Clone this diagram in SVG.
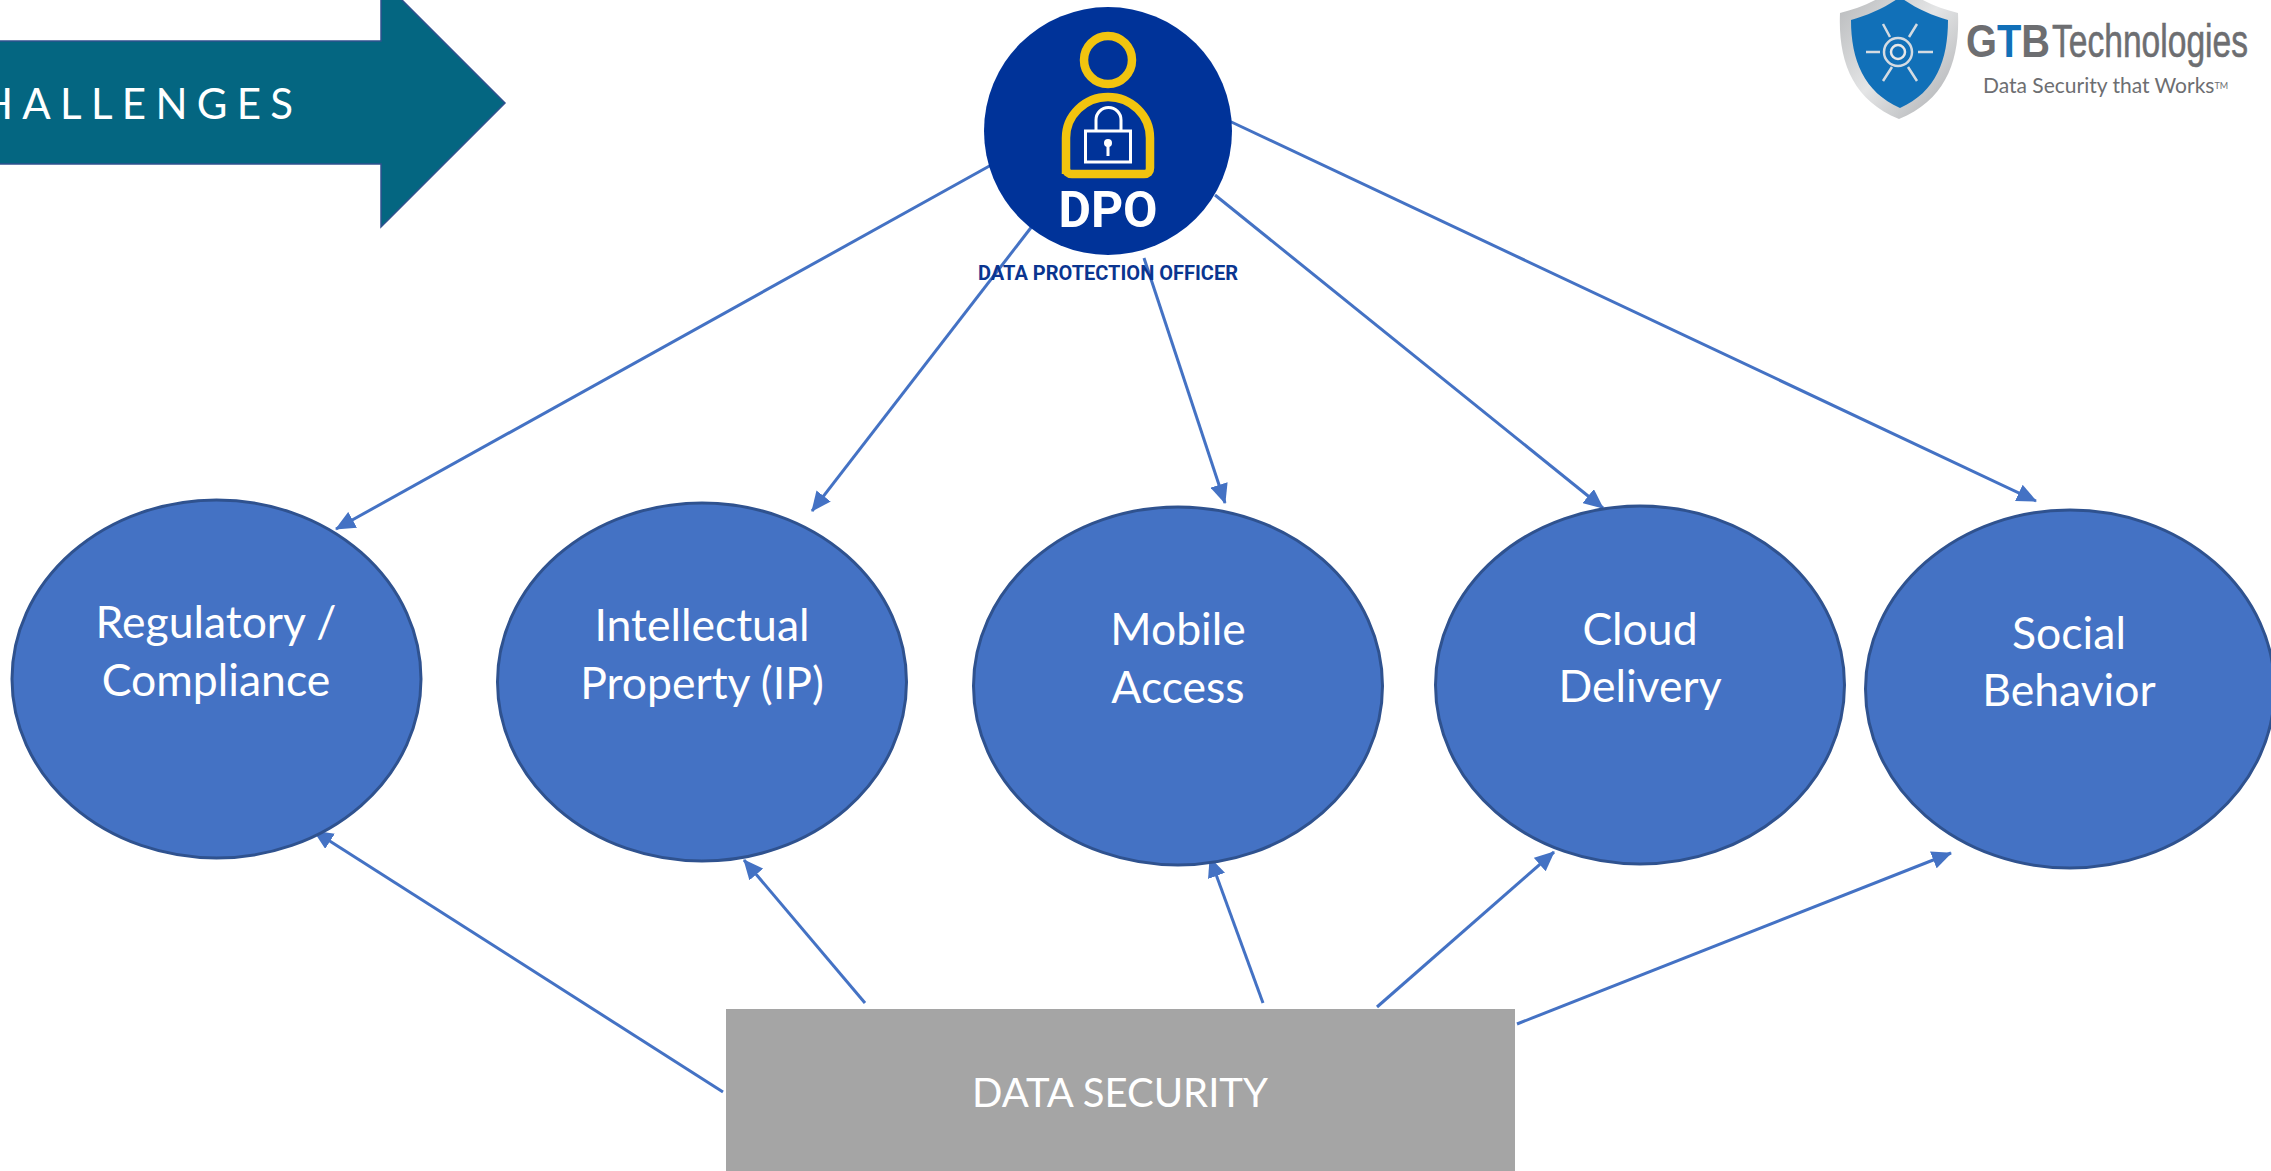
<svg xmlns="http://www.w3.org/2000/svg" width="2271" height="1171" viewBox="0 0 2271 1171">
<style>
.el{fill:#4472c4;stroke:#2f528f;stroke-width:3}
.lb{font-family:"Lato","Open Sans",sans-serif;font-size:44.500px;fill:#fff;text-anchor:middle}
.cn{stroke:#4472c4;stroke-width:3;fill:none;marker-end:url(#ah)}
</style>
<defs>
<marker id="ah" markerUnits="userSpaceOnUse" markerWidth="20" markerHeight="18" refX="19" refY="9" orient="auto"><path d="M0 0L20 9L0 18Z" fill="#4472c4"/></marker>
<linearGradient id="sv" x1="0" y1="0" x2="1" y2="1"><stop offset="0" stop-color="#b4b6b8"/><stop offset=".5" stop-color="#e4e5e6"/><stop offset="1" stop-color="#a9abae"/></linearGradient>
</defs>
<rect width="2271" height="1171" fill="#fff"/>
<g id="challenges">
<path d="M-5 41H381V-21L505 103L381 227V164H-5Z" fill="#046681" stroke="#2f528f" stroke-width="1.5"/>
<text x="-19" y="119" font-family="Lato,'Open Sans',sans-serif" font-size="42" letter-spacing="9.300" fill="#fff">HALLENGES</text>
</g>
<g id="connectors">
<line class="cn" x1="993" y1="164" x2="336" y2="529"/>
<line class="cn" x1="1033" y1="225" x2="812" y2="511"/>
<line class="cn" x1="1144" y1="258" x2="1225" y2="503"/>
<line class="cn" x1="1215" y1="195" x2="1603" y2="508"/>
<line class="cn" x1="1225" y1="119" x2="2036" y2="501"/>
<line class="cn" x1="723" y1="1092" x2="314" y2="831"/>
<line class="cn" x1="865" y1="1003" x2="744" y2="860"/>
<line class="cn" x1="1263" y1="1003" x2="1210" y2="858"/>
<line class="cn" x1="1377" y1="1007" x2="1554" y2="852"/>
<line class="cn" x1="1517" y1="1024" x2="1951" y2="853"/>
</g>
<g id="dpo">
<circle cx="1108" cy="131" r="124" fill="#003399"/>
<circle cx="1108" cy="60" r="24" fill="none" stroke="#f1c40f" stroke-width="8.5"/>
<path d="M1066 174V138A42 41 0 0 1 1150 138V168Q1150 174 1144 174H1072Q1066 174 1066 168V138" fill="none" stroke="#f1c40f" stroke-width="8.5"/>
<rect x="1085.5" y="131" width="45" height="31" fill="none" stroke="#fff" stroke-width="3"/>
<path d="M1096 131V120A12.5 12.500 0 0 1 1121 120V131" fill="none" stroke="#fff" stroke-width="3"/>
<circle cx="1108" cy="143" r="4" fill="#fff"/>
<rect x="1106.500" y="143" width="3" height="13" fill="#fff"/>
<text x="1108" y="227" font-family="Roboto,sans-serif" font-weight="700" font-size="50" fill="#fff" text-anchor="middle">DPO</text>
<text x="1108" y="279.500" font-family="Roboto,sans-serif" font-weight="700" font-size="20" fill="#0a3590" text-anchor="middle">DATA PROTECTION OFFICER</text>
</g>
<g id="regulatory"><ellipse class="el" cx="216.500" cy="679" rx="204.500" ry="179"/><text class="lb" x="216" y="638">Regulatory /</text><text class="lb" x="216" y="696">Compliance</text></g>
<g id="ip"><ellipse class="el" cx="702" cy="682" rx="204.500" ry="179"/><text class="lb" x="702" y="641">Intellectual</text><text class="lb" x="702" y="699">Property (IP)</text></g>
<g id="mobile"><ellipse class="el" cx="1178" cy="686" rx="204.500" ry="179"/><text class="lb" x="1178" y="645">Mobile</text><text class="lb" x="1178" y="703">Access</text></g>
<g id="cloud"><ellipse class="el" cx="1640" cy="685" rx="204.500" ry="179"/><text class="lb" x="1640" y="645">Cloud</text><text class="lb" x="1640" y="702">Delivery</text></g>
<g id="social"><ellipse class="el" cx="2070" cy="689" rx="204.500" ry="179"/><text class="lb" x="2069" y="649">Social</text><text class="lb" x="2069" y="706">Behavior</text></g>
<g id="data-security">
<rect x="726" y="1009" width="789" height="170" fill="#a5a5a5"/>
<text x="1120" y="1107" font-family="Lato,'Open Sans',sans-serif" font-size="40" fill="#fff" text-anchor="middle">DATA SECURITY</text>
</g>
<g id="logo">
<path d="M1899 -16C1880 0 1860 8 1840 13C1838 60 1852 100 1899 119C1946 100 1960 60 1958 13C1938 8 1918 0 1899 -16Z" fill="url(#sv)"/>
<path d="M1900 -3C1885 8 1868 15 1851 20C1851 60 1864 92 1900 108C1936 92 1948 60 1948 20C1931 15 1915 8 1900 -3Z" fill="#1170b8"/>
<g fill="none" stroke="#d4dbe2" stroke-width="2.500">
<circle cx="1898" cy="52" r="14"/><circle cx="1898" cy="52" r="7" stroke="#e6e7e8"/>
<path d="M1866 52H1880M1918 52H1933M1883 24L1890 37M1917 24L1909 37M1883 81L1892 67M1917 81L1908 67"/>
</g>
<text x="1966" y="57" font-family="'Liberation Sans',sans-serif" font-weight="700" font-size="46" fill="#6d6e71" textLength="84" lengthAdjust="spacingAndGlyphs">G<tspan fill="#1170b8">T</tspan>B</text>
<text x="2052" y="57" font-family="'Liberation Sans',sans-serif" font-size="46" fill="#6d6e71" stroke="#6d6e71" stroke-width=".6" textLength="196" lengthAdjust="spacingAndGlyphs">Technologies</text>
<text x="1983" y="93" font-family="Lato,sans-serif" font-size="21" fill="#6d6e71">Data Security that Works<tspan font-size="9" dy="-4">TM</tspan></text>
</g>
</svg>
